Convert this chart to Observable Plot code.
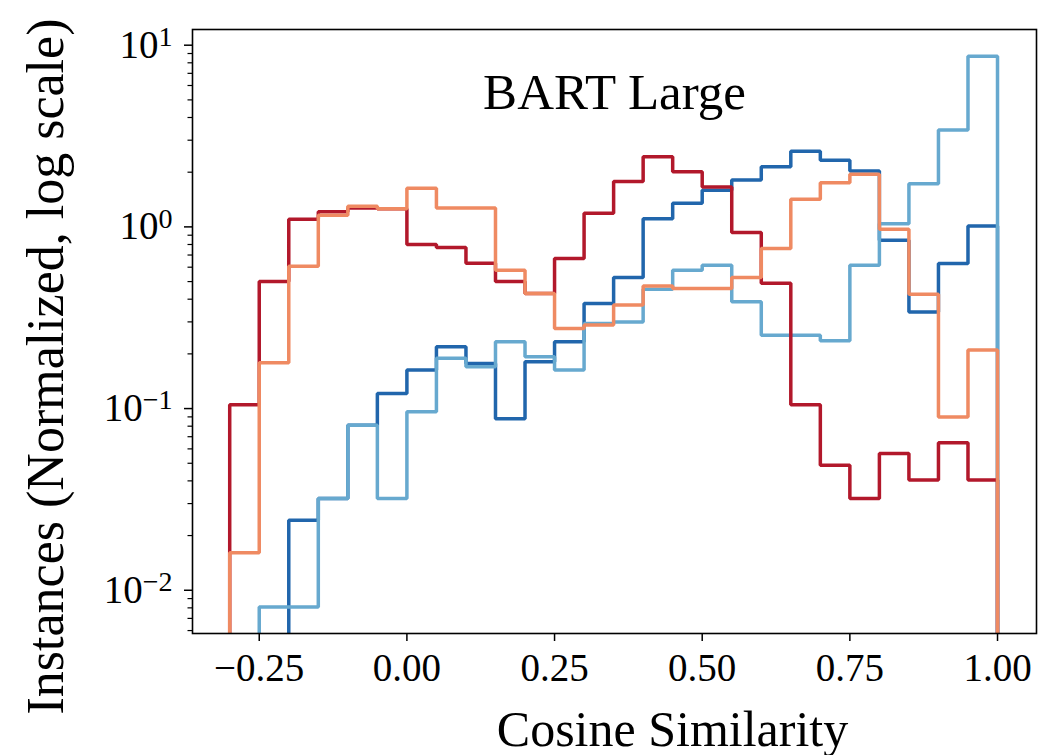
<!DOCTYPE html>
<html>
<head>
<meta charset="utf-8">
<script src="https://cdn.jsdelivr.net/npm/d3@7"></script>
<script src="https://cdn.jsdelivr.net/npm/@observablehq/plot@0.6"></script>
<style>
  html, body { margin: 0; padding: 0; background: #fff; }
  #chart { width: 1040px; height: 755px; }
</style>
</head>
<body>
<div id="chart"></div>
<script>
// ---- data ----
const binEdges = [-0.30, -0.25, -0.20, -0.15, -0.10, -0.05, 0.00, 0.05, 0.10, 0.15, 0.20, 0.25, 0.30,
  0.35, 0.40, 0.45, 0.50, 0.55, 0.60, 0.65, 0.70, 0.75, 0.80, 0.85, 0.90, 0.95, 1.00];

const darkRed = [0.105, 0.50, 1.10, 1.21, 1.27, 1.26, 0.80, 0.77, 0.63, 0.50, 0.43, 0.67, 1.19,
  1.78, 2.43, 2.01, 1.66, 0.93, 0.49, 0.105, 0.0488, 0.032, 0.0566, 0.0404, 0.0648, 0.0404];

const orange = [0.0161, 0.179, 0.608, 1.16, 1.30, 1.26, 1.63, 1.27, 1.27, 0.578, 0.43, 0.276, 0.288,
  0.371, 0.473, 0.458, 0.458, 0.526, 0.76, 1.42, 1.75, 1.95, 0.97, 0.426, 0.090, 0.21];

const darkBlue = [0, 0, 0.0243, 0.032, 0.081, 0.121, 0.163, 0.219, 0.177, 0.088, 0.181, 0.233, 0.379,
  0.526, 1.11, 1.35, 1.59, 1.81, 2.14, 2.61, 2.33, 2.03, 0.845, 0.340, 0.629, 1.01];

const lightBlue = [0, 0.0081, 0.0081, 0.032, 0.081, 0.032, 0.096, 0.189, 0.170, 0.233, 0.193, 0.163, 0.294,
  0.300, 0.454, 0.578, 0.615, 0.387, 0.253, 0.253, 0.236, 0.615, 1.04, 1.73, 3.41, 8.7];

const xTicks = [-0.25, 0.00, 0.25, 0.50, 0.75, 1.00];
const yTicks = [0.01, 0.1, 1, 10];
const yTickExponents = ["\u22122", "\u22121", "0", "1"];

const titleText = "BART Large";
const xLabel = "Cosine Similarity";
const yLabel = "Instances (Normalized, log scale)";

// ---- drawing ----
const FLOOR = 1e-5; // zero counts fall below the visible log range (clipped)
const yDomain = [Math.pow(10, -2.238), Math.pow(10, 1.0864)];

function stepPoints(values) {
  const n = binEdges.length - 1;
  const pts = [{x: binEdges[0], y: FLOOR}];
  values.forEach((v, i) => pts.push({x: binEdges[i], y: v > 0 ? v : FLOOR}));
  pts.push({x: binEdges[n], y: values[n - 1] > 0 ? values[n - 1] : FLOOR});
  pts.push({x: binEdges[n], y: FLOOR});
  return pts;
}

// minor log ticks (2..9 x 10^k)
const minorTicks = [];
for (let k = -3; k <= 1; k++) for (let m = 2; m <= 9; m++) {
  const v = m * Math.pow(10, k);
  if (v >= yDomain[0] && v <= yDomain[1]) minorTicks.push(v);
}

const series = [
  {values: darkBlue, color: "#2166ac"},
  {values: lightBlue, color: "#67a9cf"},
  {values: darkRed, color: "#b2182b"},
  {values: orange, color: "#ef8a62"}
];

const lineMarks = series.map(s => Plot.line(stepPoints(s.values), {
  x: "x", y: "y", curve: "step-after", stroke: s.color, strokeWidth: 3.5,
  strokeLinejoin: "miter", strokeLinecap: "butt", clip: true
}));

const plot = Plot.plot({
  width: 1040,
  height: 755,
  marginLeft: 192,
  marginRight: 4,
  marginTop: 29,
  marginBottom: 122,
  style: {fontFamily: "'Liberation Serif', 'Times New Roman', serif", fontSize: "39px", background: "#fff", color: "#000", overflow: "visible"},
  x: {domain: [-0.363, 1.066]},
  y: {type: "log", domain: yDomain},
  marks: [
    ...lineMarks,
    Plot.axisX({ticks: xTicks, tickFormat: d3.format(".2f"), tickSize: 8, tickPadding: 12, strokeWidth: 1.5, label: null, fontSize: 39}),
    Plot.axisY({ticks: minorTicks, tickFormat: () => "", tickSize: 4.5, strokeWidth: 1.2, label: null}),
    Plot.axisY({ticks: yTicks, tickFormat: d => "10" + yTickExponents[yTicks.indexOf(d)], tickSize: 8, tickPadding: 12, strokeWidth: 1.5, label: null, fontSize: 39}),
    Plot.frame({stroke: "#000", strokeWidth: 1.6}),
    Plot.text([titleText], {frameAnchor: "top", dy: 79, lineAnchor: "bottom", fontSize: 51, fill: "#000"}),
    Plot.text([xLabel], {frameAnchor: "bottom", dx: 58, dy: 112, lineAnchor: "bottom", textAnchor: "middle", fontSize: 50, fill: "#000"}),
    Plot.text([yLabel], {frameAnchor: "left", dx: -130, dy: 35, rotate: -90, lineAnchor: "bottom", textAnchor: "middle", fontSize: 52, fill: "#000"})
  ]
});

// superscript exponents on the log axis labels
plot.querySelectorAll('g[aria-label="y-axis tick label"] text').forEach(t => {
  const s = t.textContent;
  if (s.startsWith("10") && s.length > 2) {
    const exp = s.slice(2);
    t.textContent = "10";
    const ts = document.createElementNS("http://www.w3.org/2000/svg", "tspan");
    ts.setAttribute("dy", "-0.42em");
    ts.setAttribute("font-size", "0.72em");
    ts.textContent = exp;
    t.appendChild(ts);
  }
});

document.getElementById("chart").appendChild(plot);
</script>
</body>
</html>
